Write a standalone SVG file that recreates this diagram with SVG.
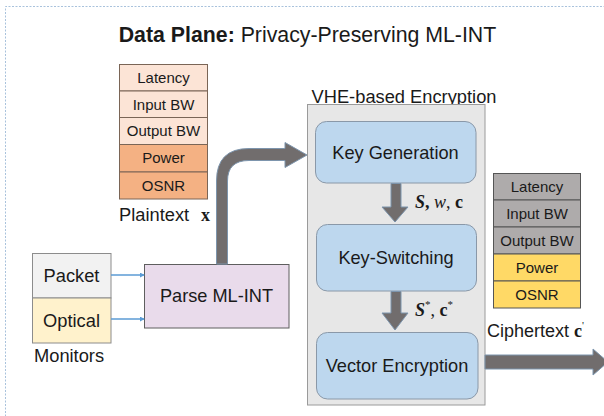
<svg xmlns="http://www.w3.org/2000/svg" width="604" height="416" viewBox="0 0 604 416">
  <style>
    .sans { font-family: "Liberation Sans", Arial, sans-serif; fill: #1a1a1a; }
    .math { font-family: "Liberation Serif", "Times New Roman", serif; fill: #1a1a1a; }
    .cell { font-family: "Liberation Sans", Arial, sans-serif; font-size: 15px; fill: #1a1a1a; text-anchor: middle; }
    .step { fill: #bdd7ee; stroke: #8a98a8; stroke-width: 1; }
    .step-label { font-family: "Liberation Sans", Arial, sans-serif; font-size: 18.2px; fill: #1a1a1a; text-anchor: middle; }
    .big-arrow { fill: #716d6d; stroke: #7d95ad; stroke-width: 1; }
    .feed { stroke: #5b9bd5; stroke-width: 1.3; fill: none; marker-end: url(#feedHead); }
  </style>
  <defs>
    <marker id="feedHead" viewBox="0 0 6 6" refX="5" refY="3" markerWidth="5" markerHeight="5" orient="auto" markerUnits="userSpaceOnUse">
      <path d="M0,0 L6,3 L0,6 Z" fill="#5b9bd5"/>
    </marker>
  </defs>

  <rect width="604" height="416" fill="#ffffff"/>
  <!-- dashed frame of the data plane -->
  <path d="M5.5,420 V6.5 H610" fill="none" stroke="#a9c2dc" stroke-width="1" stroke-dasharray="2,1.5"/>

  <text id="title" class="sans" x="307.5" y="42" font-size="21.3" text-anchor="middle"><tspan font-weight="bold">Data Plane:</tspan> Privacy-Preserving ML-INT</text>

  <!-- plaintext vector -->
  <g id="plaintext">
    <g stroke="#7a6556" stroke-width="1">
      <rect x="119.5" y="64.5" width="88" height="26.5" fill="#fce4d6"/>
      <rect x="119.5" y="91" width="88" height="26.5" fill="#fce4d6"/>
      <rect x="119.5" y="117.5" width="88" height="27" fill="#fce4d6"/>
      <rect x="119.5" y="144.5" width="88" height="27.5" fill="#f4b183"/>
      <rect x="119.5" y="172" width="88" height="27" fill="#f4b183"/>
    </g>
    <text class="cell" x="163.5" y="83">Latency</text>
    <text class="cell" x="163.5" y="109.5">Input BW</text>
    <text class="cell" x="163.5" y="136">Output BW</text>
    <text class="cell" x="163.5" y="163">Power</text>
    <text class="cell" x="163.5" y="190.5">OSNR</text>
    <text class="sans" x="119" y="221" font-size="18.3">Plaintext</text>
    <text class="math" x="201" y="221" font-size="18" font-weight="bold">x</text>
  </g>

  <!-- monitors -->
  <g id="monitors">
    <rect x="32.5" y="253.5" width="78.5" height="44.5" fill="#f2f2f2" stroke="#8c8c8c"/>
    <rect x="32.5" y="298" width="78.5" height="45" fill="#fff2cc" stroke="#8c8c8c"/>
    <text class="sans" x="71.5" y="282" font-size="18.3" text-anchor="middle">Packet</text>
    <text class="sans" x="71.5" y="327" font-size="18.3" text-anchor="middle">Optical</text>
    <text class="sans" x="34" y="362" font-size="18.3">Monitors</text>
  </g>

  <!-- parser -->
  <g id="parse-ml-int">
    <rect x="144.5" y="264.5" width="144.5" height="63.5" fill="#e9dbeb" stroke="#5e5e5e"/>
    <text class="sans" x="216.5" y="302" font-size="18.2" text-anchor="middle">Parse ML-INT</text>
  </g>

  <!-- VHE encryption block -->
  <g id="vhe-encryption">
    <text class="sans" x="404" y="103" font-size="18.3" text-anchor="middle">VHE-based Encryption</text>
    <rect x="307.5" y="104.5" width="177.5" height="300.5" fill="#e7e7e7" stroke="#9a9a9a"/>
  </g>

  <g id="key-generation">
    <rect class="step" x="315.5" y="121.5" width="160.5" height="61.5" rx="11"/>
    <text class="step-label" x="395.5" y="158.5">Key Generation</text>
  </g>

  <g id="key-switching">
    <rect class="step" x="316.5" y="224.5" width="160" height="66.5" rx="11"/>
    <text class="step-label" x="396" y="264">Key-Switching</text>
  </g>

  <g id="vector-encryption">
    <rect class="step" x="316.5" y="332.5" width="161.5" height="66.5" rx="11"/>
    <text class="step-label" x="397" y="372">Vector Encryption</text>
  </g>

  <!-- connectors -->
  <g id="connectors">
    <line class="feed" x1="111" y1="275" x2="144" y2="275"/>
    <line class="feed" x1="111" y1="319" x2="144" y2="319"/>
    <!-- bent arrow: Parse ML-INT to Key Generation -->
    <path class="big-arrow" d="M216.5,264 V181 Q216.5,148.5 249,148.5 H285 V142.5 L307,155 L285,167.5 V160.5 H249 Q227.5,160.5 227.5,181 V264 Z"/>
    <!-- Key Generation to Key-Switching -->
    <path class="big-arrow" d="M391,183.5 H401 V207 H408 L395,222 L382,207 H391 Z"/>
    <!-- Key-Switching to Vector Encryption -->
    <path class="big-arrow" d="M391,291.5 H401 V313 H408 L395,330 L382,313 H391 Z"/>
    <!-- ciphertext output -->
    <path class="big-arrow" d="M485,355 H593 V349 L608,362 L593,375 V369 H485 Z"/>
  </g>

  <text class="math" x="415" y="208" font-size="18"><tspan font-weight="bold" font-style="italic">S</tspan><tspan font-weight="bold">,</tspan> <tspan font-style="italic">w</tspan>, <tspan font-weight="bold">c</tspan></text>
  <text class="math" x="415" y="316" font-size="18"><tspan font-weight="bold" font-style="italic">S</tspan><tspan font-size="11" dy="-8">*</tspan><tspan dy="8">, </tspan><tspan font-weight="bold">c</tspan><tspan font-size="11" dy="-8">*</tspan></text>

  <!-- ciphertext vector -->
  <g id="ciphertext">
    <g stroke="#555555" stroke-width="1">
      <rect x="493.5" y="173.5" width="87" height="26.5" fill="#aeabab"/>
      <rect x="493.5" y="200" width="87" height="27" fill="#aeabab"/>
      <rect x="493.5" y="227" width="87" height="27" fill="#aeabab"/>
      <rect x="493.5" y="254" width="87" height="27" fill="#ffd966"/>
      <rect x="493.5" y="281" width="87" height="27" fill="#ffd966"/>
    </g>
    <text class="cell" x="537" y="192">Latency</text>
    <text class="cell" x="537" y="219">Input BW</text>
    <text class="cell" x="537" y="246">Output BW</text>
    <text class="cell" x="537" y="273">Power</text>
    <text class="cell" x="537" y="300">OSNR</text>
    <text class="sans" x="487" y="337" font-size="18">Ciphertext <tspan class="math" font-weight="bold" font-size="18">c</tspan><tspan class="math" font-size="11" dy="-8">'</tspan></text>
  </g>
</svg>
